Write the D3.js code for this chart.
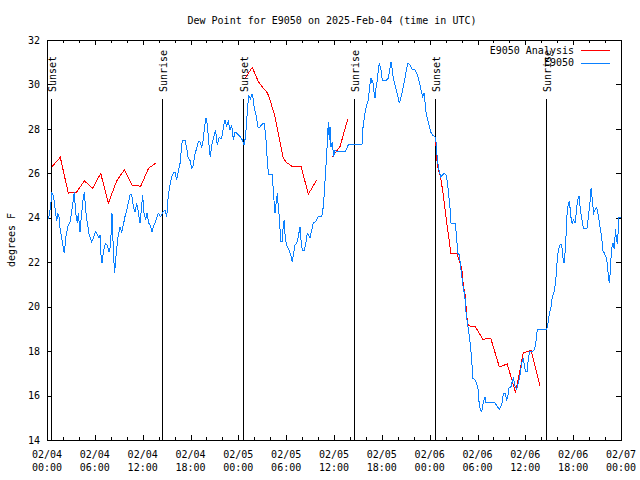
<!DOCTYPE html>
<html><head><meta charset="utf-8">
<script src="https://cdn.jsdelivr.net/npm/d3@7"></script>
<style>
body{margin:0;background:#fff;}
svg{display:block;}
text{font-family:"DejaVu Sans Mono",monospace;font-size:10px;fill:#000;}
</style></head><body>
<svg id="chart" width="640" height="480"></svg>
<script>
// ---------- data (hours after 2025-02-04 00:00 UTC, degrees F) ----------
const chartTitle = "Dew Point for E9050 on 2025-Feb-04 (time in UTC)";
const yAxisLabel = "degrees F";
const yTickValues = [14,16,18,20,22,24,26,28,30,32];
const xMajorHours = [0,6,12,18,24,30,36,42,48,54,60,66,72];
const xMinorHours = d3.range(0,73,2);
const xTickDates = ["02/04","02/04","02/04","02/04","02/05","02/05","02/05","02/05","02/06","02/06","02/06","02/06","02/07"];
const xTickTimes = ["00:00","06:00","12:00","18:00","00:00","06:00","12:00","18:00","00:00","06:00","12:00","18:00","00:00"];
const sunEventNames = ["Sunset","Sunrise","Sunset","Sunrise","Sunset","Sunrise"];
const sunEventHours = [0.54,14.46,24.62,38.55,48.70,62.53];
const seriesNames = ["E9050 Analysis","E9050"];
const seriesColors = ["#ff0000","#0a80ff"];

const analysisNight1 = [[0.63,26.30],[1.67,26.72],[2.67,25.11],[3.72,25.16],[4.68,25.66],[5.73,25.33],[6.74,26.00],[7.69,24.65],[8.74,25.66],[9.70,26.16],[10.70,25.46],[11.75,25.42],[12.76,26.24],[13.71,26.47]];
const analysisNight2 = [[24.84,30.28],[25.75,30.77],[26.51,30.12],[27.13,29.83],[27.56,29.67],[27.85,29.45],[28.60,28.55],[29.64,26.68],[30.07,26.48],[30.69,26.33],[31.86,26.33],[32.78,25.06],[33.83,25.70]];
const analysisNight2b = [[35.79,26.75],[36.75,27.20],[37.72,28.43]];
const analysisNight3 = [[48.76,27.40],[48.96,26.37],[49.39,25.78],[49.71,25.03],[50.26,23.45],[50.68,22.37],[51.39,22.40],[52.02,21.73],[52.22,20.98],[52.47,20.48],[52.65,19.55],[52.85,19.14],[53.69,19.10],[54.03,18.93],[54.65,18.53],[55.66,18.58],[56.74,17.29],[57.73,17.42],[58.77,16.14],[59.75,17.93],[60.71,18.03],[61.84,16.45]];

const stationObs = [[0.09,23.92],[0.25,24.08],[0.46,24.50],[0.59,25.16],[0.75,25.03],[0.92,24.71],[1.09,24.21],[1.22,23.85],[1.34,24.21],[1.51,24.03],[1.63,23.54],[1.84,23.09],[2.04,22.64],[2.17,22.40],[2.35,23.09],[2.60,23.60],[2.89,23.82],[3.10,24.30],[3.30,24.80],[3.42,25.14],[3.60,24.21],[3.80,23.76],[3.93,24.21],[4.14,23.37],[4.35,24.21],[4.55,24.89],[4.68,25.16],[4.85,24.35],[5.06,23.76],[5.27,23.27],[5.61,22.92],[5.81,23.09],[6.08,23.37],[6.27,23.27],[6.52,23.09],[6.65,23.23],[6.74,22.42],[6.90,21.96],[7.06,22.42],[7.31,22.85],[7.53,22.78],[7.78,22.47],[7.97,22.73],[8.15,24.20],[8.32,22.55],[8.47,21.50],[8.66,22.28],[8.91,23.15],[9.16,23.60],[9.37,23.37],[9.57,23.67],[9.78,24.05],[10.00,24.35],[10.20,24.67],[10.41,25.03],[10.62,25.03],[10.83,24.50],[11.04,24.27],[11.25,24.65],[11.45,24.27],[11.67,23.75],[12.00,25.03],[12.17,24.20],[12.38,23.90],[12.54,24.20],[12.79,23.75],[13.01,23.60],[13.17,23.36],[13.33,23.60],[13.55,23.75],[13.96,24.20],[14.26,24.05],[14.59,24.27],[14.80,24.35],
[15.02,24.05],[15.22,25.03],[15.43,25.48],[15.64,25.84],[15.84,26.00],[16.06,26.07],[16.27,25.70],[16.47,26.07],[16.68,26.42],[16.90,27.28],[17.02,27.50],[17.31,27.50],[17.52,27.13],[17.72,26.68],[17.94,26.58],[18.15,26.24],[18.31,26.33],[18.57,26.87],[18.78,27.14],[18.98,27.42],[19.19,27.43],[19.41,27.14],[19.61,27.55],[19.76,28.10],[19.94,28.48],[20.11,28.18],[20.32,27.28],[20.48,26.74],[20.66,27.28],[20.86,27.55],[21.14,27.95],[21.36,27.28],[21.58,27.61],[21.83,27.55],[21.99,27.73],[22.20,28.22],[22.33,28.40],[22.52,28.13],[22.74,28.32],[22.96,27.95],[23.17,28.18],[23.37,27.50],[23.58,27.87],[23.80,27.80],[24.00,27.73],[24.27,27.64],[24.50,27.50],[24.71,27.28],[24.90,27.64],[25.05,28.36],[25.18,29.03],[25.30,29.53],[25.50,29.35],[25.72,29.57],[25.88,29.35],[26.00,28.93],[26.18,28.70],[26.31,28.48],[26.43,28.10],[26.59,28.03],[26.93,28.20],[27.22,28.25],[27.35,27.95],[27.47,27.50],[27.68,26.30],[27.85,25.93],[28.26,25.93],[28.47,24.80],[28.60,24.20],[28.73,24.65],[28.89,25.10],[29.01,24.50],[29.14,24.05],[29.32,22.92],[29.52,22.92],[29.64,23.75],[29.77,23.90],[29.85,23.30],[29.98,22.92],[30.14,22.70],[30.36,22.55],[30.57,22.33],[30.77,22.02],[30.90,22.33],[31.11,22.78],[31.32,22.85],[31.52,23.15],[31.74,23.60],[31.86,23.00],[32.02,22.55],[32.28,22.55],[32.49,22.92],[32.65,23.30],[32.83,23.23],[32.99,23.08],[33.20,23.45],[33.40,23.75],[33.62,23.82],[33.83,23.90],[34.03,24.05],[34.46,24.05],[34.66,24.50],[34.78,25.10],[34.96,26.15],[35.16,27.35],[35.29,28.32],[35.41,27.50],[35.50,28.10],[35.62,27.20],[35.79,27.42],[35.94,26.75],[36.13,27.05],[36.34,26.97],[37.38,26.97],[37.80,27.28],[39.51,27.28],[39.60,27.95],[39.76,28.40],[39.89,28.70],[40.10,29.08],[40.30,29.30],[40.51,29.98],[40.64,30.28],[40.73,30.05],[40.86,30.20],[41.02,29.67],[41.14,29.38],[41.27,29.83],[41.43,30.20],[41.56,30.65],[41.68,30.95],[41.86,30.73],[42.06,30.20],[42.61,30.20],[42.81,30.28],[43.03,30.73],[43.15,31.02],[43.31,30.65],[43.44,30.28],[43.65,29.98],[43.87,29.67],[44.07,29.38],[44.19,29.15],[44.37,29.38],[44.49,29.53],[44.69,29.90],[44.91,30.28],[45.12,30.73],[45.25,30.95],[45.54,30.88],[45.75,30.70],[46.16,30.65],[46.38,30.50],[46.58,30.28],[46.79,29.98],[47.00,29.60],[47.13,29.45],[47.29,29.60],[47.42,29.22],[47.54,28.77],[47.70,28.48],[47.92,28.18],[48.13,27.87],[48.33,27.73],[48.67,27.65],[48.80,27.42],[48.88,26.97],[49.01,26.52],[49.17,26.15],[49.39,25.85],[49.64,25.93],[49.84,26.00],[50.05,25.93],[50.21,25.62],[50.39,25.03],[50.55,24.43],[50.68,23.75],[51.22,23.75],[51.39,23.08],[51.52,22.40],[51.72,22.33],[51.89,21.80],[52.06,21.28],[52.22,20.83],[52.40,20.53],[52.56,19.77],[52.65,19.48],[52.85,19.00],[53.06,18.42],[53.27,17.68],[53.40,16.78],[53.69,16.70],[53.90,16.55],[54.10,16.25],[54.23,15.50],[54.40,15.35],[54.53,15.27],[54.73,15.71],[54.94,15.95],[55.07,15.67],[55.36,15.67],[56.20,15.67],[56.49,15.50],[56.74,15.38],[57.04,15.58],[57.24,16.10],[57.45,16.10],[57.66,15.80],[57.79,15.95],[57.95,16.33],[58.20,16.40],[58.49,16.81],[58.70,16.43],[58.92,16.30],[59.12,16.57],[59.33,16.93],[59.54,17.45],[59.75,17.69],[59.90,17.30],[60.05,17.07],[60.21,17.07],[60.38,17.69],[60.53,17.97],[60.88,17.97],[61.09,18.05],[61.30,18.28],[61.43,18.80],[61.55,18.98],[62.68,18.98],[62.81,19.18],[63.01,19.70],[63.22,20.00],[63.38,20.45],[63.60,20.67],[63.81,21.12],[63.97,21.97],[64.14,22.55],[64.35,22.78],[64.56,22.80],[64.69,22.25],[64.85,21.95],[64.98,22.44],[65.10,23.15],[65.23,24.13],[65.39,24.65],[65.54,24.71],[65.71,24.05],[65.86,23.75],[66.02,23.90],[66.23,23.75],[66.40,24.26],[66.55,24.80],[66.74,24.98],[66.90,24.35],[67.07,23.99],[67.27,23.53],[67.74,23.53],[67.90,23.99],[68.11,24.71],[68.26,25.36],[68.43,24.65],[68.58,24.22],[68.74,24.35],[68.95,24.46],[69.15,24.13],[69.37,23.56],[69.58,23.11],[69.74,22.50],[69.93,22.40],[70.16,22.19],[70.31,21.88],[70.43,21.29],[70.55,21.05],[70.66,21.61],[70.81,22.60],[71.00,22.85],[71.16,22.60],[71.31,23.50],[71.41,23.08],[71.54,22.82],[71.69,23.59],[71.75,24.04],[71.94,24.00]];

// ---------- drawing ----------
const svg = d3.select("#chart");
const M = {left:47, right:621, top:40, bottom:440};
const x = d3.scaleLinear().domain([0,72]).range([M.left, M.right]);
const y = d3.scaleLinear().domain([14,32]).range([M.bottom, M.top]);

svg.append("rect").attr("width",640).attr("height",480).attr("fill","#fff");

// title
svg.append("text").attr("x",332).attr("y",23.5).attr("text-anchor","middle").text(chartTitle);
// y label
svg.append("text").attr("transform","translate(11,240) rotate(-90)").attr("text-anchor","middle").attr("dy","0.35em").text(yAxisLabel);

// axes
function styleAxis(g){
  g.selectAll(".domain").remove();
  g.selectAll("line").attr("stroke","#000").attr("shape-rendering","crispEdges");
}
svg.append("g").attr("transform",`translate(${M.left},0)`)
  .call(d3.axisLeft(y).tickValues(yTickValues).tickSize(-5).tickPadding(7).tickFormat(d3.format("d")))
  .call(styleAxis)
  .call(g=>g.selectAll("text").attr("font-family",null).attr("font-size",null).attr("fill",null));
svg.append("g").attr("transform",`translate(${M.right},0)`)
  .call(d3.axisRight(y).tickValues(yTickValues).tickSize(-5).tickFormat(""))
  .call(styleAxis);
// x minor ticks
svg.append("g").attr("transform",`translate(0,${M.bottom})`)
  .call(d3.axisBottom(x).tickValues(xMinorHours).tickSize(-3).tickFormat(""))
  .call(styleAxis);
svg.append("g").attr("transform",`translate(0,${M.top})`)
  .call(d3.axisTop(x).tickValues(xMinorHours).tickSize(-3).tickFormat(""))
  .call(styleAxis);
// x major ticks
svg.append("g").attr("transform",`translate(0,${M.bottom})`)
  .call(d3.axisBottom(x).tickValues(xMajorHours).tickSize(-5).tickFormat(""))
  .call(styleAxis);
svg.append("g").attr("transform",`translate(0,${M.top})`)
  .call(d3.axisTop(x).tickValues(xMajorHours).tickSize(-5).tickFormat(""))
  .call(styleAxis);
// two-line x tick labels
const xl = svg.append("g");
xMajorHours.forEach((h,i)=>{
  xl.append("text").attr("x",x(h)).attr("y",458).attr("text-anchor","middle").text(xTickDates[i]);
  xl.append("text").attr("x",x(h)).attr("y",470.5).attr("text-anchor","middle").text(xTickTimes[i]);
});

// border
svg.append("rect").attr("x",M.left+0.5).attr("y",M.top+0.5)
  .attr("width",M.right-M.left).attr("height",M.bottom-M.top)
  .attr("fill","none").attr("stroke","#000").attr("shape-rendering","crispEdges");

// sunrise / sunset markers
const sun = svg.append("g");
sunEventHours.forEach((h,i)=>{
  const px = Math.round(x(h))+0.5;
  sun.append("line").attr("x1",px).attr("x2",px).attr("y1",99).attr("y2",M.bottom)
    .attr("stroke","#000").attr("stroke-width",1).attr("shape-rendering","crispEdges");
  sun.append("text").attr("transform",`translate(${px+0.5},92) rotate(-90)`)
    .attr("dy","0.35em").attr("text-anchor","start").text(sunEventNames[i]);
});

// data lines
const line = d3.line().x(d=>x(d[0])).y(d=>y(d[1]));
[analysisNight1, analysisNight2, analysisNight2b, analysisNight3].forEach(seg=>{
  svg.append("path").attr("d",line(seg)).attr("fill","none")
    .attr("stroke",seriesColors[0]).attr("stroke-width",1).attr("shape-rendering","crispEdges");
});
svg.append("path").attr("d",line(stationObs)).attr("fill","none")
  .attr("stroke",seriesColors[1]).attr("stroke-width",1).attr("shape-rendering","crispEdges");

// legend
const lg = svg.append("g");
seriesNames.forEach((n,i)=>{
  const ly = 50 + i*12.5;
  lg.append("text").attr("x",574).attr("y",ly).attr("dy","0.35em").attr("text-anchor","end").text(n);
  lg.append("line").attr("x1",581).attr("x2",610).attr("y1",Math.round(ly)+0.5).attr("y2",Math.round(ly)+0.5)
    .attr("stroke",seriesColors[i]).attr("stroke-width",1).attr("shape-rendering","crispEdges");
});
</script>
</body></html>
